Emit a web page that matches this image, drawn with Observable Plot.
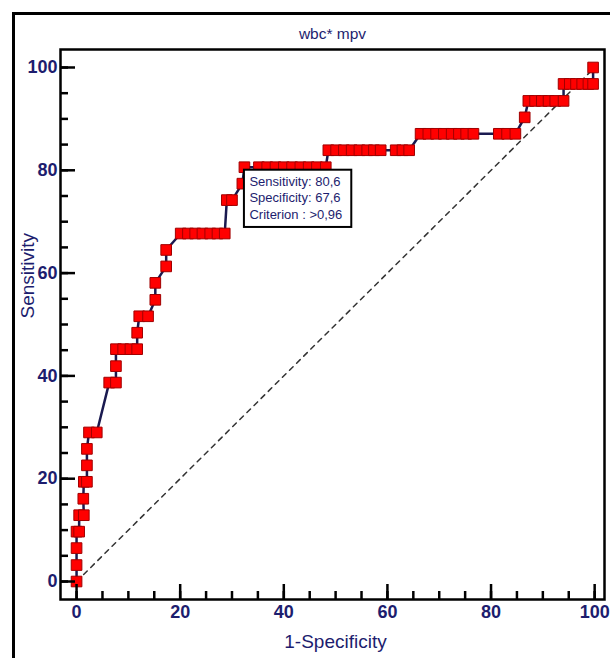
<!DOCTYPE html>
<html><head><meta charset="utf-8">
<script src="https://cdn.jsdelivr.net/npm/d3@7"></script>
<script src="https://cdn.jsdelivr.net/npm/@observablehq/plot@0.6"></script>
<style>
html,body{margin:0;padding:0;background:#fff;}
#wrap{position:relative;width:610px;height:658px;overflow:hidden;background:#fff;}
#outer{position:absolute;left:12px;top:12px;width:640px;height:700px;border:3px solid #000;box-sizing:border-box;}
#chart{position:absolute;left:0;top:0;}
</style></head><body>
<div id="wrap"><div id="outer"></div><div id="chart"></div></div>
<script>
// ROC points (1-Specificity, Sensitivity)
const fpr = [
  0, 0, 0, 0, 0.5, 0.5, 1.4, 1.3, 1.4, 2.0, 2.0, 2.0, 2.4, 3.9,
  6.3, 7.6, 7.6, 7.6, 9.0, 10.4, 11.7, 11.7, 12.1, 13.8, 15.2, 15.2, 17.3, 17.3,
  20.1, 21.5, 22.9, 24.3, 25.8, 27.2, 28.6,
  29.0, 30.0, 32.0,
  32.4, 35.2, 36.8, 38.4, 40.0, 41.6, 43.2, 44.8, 46.4, 48.1,
  48.6, 50.1, 51.6, 53.1, 54.6, 56.1, 57.4, 58.7, 61.6, 62.9, 64.2,
  66.4, 67.9, 69.4, 70.9, 72.4, 73.8, 75.2, 76.6, 81.5, 83.1, 84.7,
  86.5,
  87.2, 88.5, 89.8, 91.1, 92.4, 94.0,
  94.0, 95.2, 96.4, 97.6, 98.8, 99.7,
  99.7
];
const sensitivity = [
  0, 3.2, 6.5, 9.7, 9.7, 12.9, 12.9, 16.1, 19.4, 19.4, 22.6, 25.8, 29.0, 29.0,
  38.7, 38.7, 41.9, 45.2, 45.2, 45.2, 45.2, 48.4, 51.6, 51.6, 54.8, 58.1, 61.3, 64.5,
  67.7, 67.7, 67.7, 67.7, 67.7, 67.7, 67.7,
  74.2, 74.2, 77.4,
  80.6, 80.6, 80.6, 80.6, 80.6, 80.6, 80.6, 80.6, 80.6, 80.6,
  83.9, 83.9, 83.9, 83.9, 83.9, 83.9, 83.9, 83.9, 83.9, 83.9, 83.9,
  87.1, 87.1, 87.1, 87.1, 87.1, 87.1, 87.1, 87.1, 87.1, 87.1, 87.1,
  90.3,
  93.5, 93.5, 93.5, 93.5, 93.5, 93.5,
  96.8, 96.8, 96.8, 96.8, 96.8, 96.8,
  100
];
const diagonalX = [0, 100];
const diagonalY = [0, 100];
const majorTicks = [0, 20, 40, 60, 80, 100];
const minorTicks = [0,5,10,15,20,25,30,35,40,45,50,55,60,65,70,75,80,85,90,95,100];
const criterion = {fpr: 32.4, sens: 80.6};
const annotationLines = ["Sensitivity: 80,6", "Specificity: 67,6", "Criterion : >0,96"];
const titleText = "wbc* mpv";
const xLabel = "1-Specificity";
const yLabel = "Sensitivity";

const FONT = "'Liberation Sans', Arial, Helvetica, sans-serif";
const NAVY = "#1d1d6e";

const data = fpr.map((x, i) => ({x, y: sensitivity[i]}));
const diag = diagonalX.map((x, i) => ({x, y: diagonalY[i]}));

const plot = Plot.plot({
  width: 610, height: 658,
  marginLeft: 60, marginRight: 6, marginTop: 49, marginBottom: 59,
  style: {fontFamily: FONT, background: "transparent", color: NAVY, overflow: "visible"},
  x: {domain: [-3.1, 101.9]},
  y: {domain: [-3.5, 103.5]},
  marks: [
    Plot.line(diag, {x: "x", y: "y", stroke: "#333", strokeWidth: 1.5, strokeDasharray: "5,5"}),
    Plot.line(data, {x: "x", y: "y", stroke: "#1a1a50", strokeWidth: 2.5}),
    Plot.dot(data, {x: "x", y: "y", symbol: "square", r: 6, fill: "#ff0000", stroke: "#a00000", strokeWidth: 1}),
    Plot.text([criterion], {x: "fpr", y: "sens", text: () => annotationLines.join("\n"),
      textAnchor: "start", lineAnchor: "top", dx: 5, dy: 7, lineHeight: 1.27,
      fontSize: 13, fill: NAVY}),
    Plot.frame({stroke: "#000", strokeWidth: 2.5}),
    Plot.axisX({ticks: minorTicks, tickSize: -8, tickFormat: () => "", label: null, strokeWidth: 2.5, stroke: "#000"}),
    Plot.axisX({ticks: majorTicks, tickSize: -15, tickPadding: 21, label: null, strokeWidth: 2.5, stroke: "#000",
      fontSize: 18, fontWeight: "bold", fill: NAVY}),
    Plot.axisY({ticks: minorTicks, tickSize: -8, tickFormat: () => "", label: null, strokeWidth: 2.5, stroke: "#000"}),
    Plot.axisY({ticks: majorTicks, tickSize: -15, tickPadding: 18, label: null, strokeWidth: 2.5, stroke: "#000",
      fontSize: 18, fontWeight: "bold", fill: NAVY}),
    Plot.text([titleText], {frameAnchor: "top", dy: -22, text: d => d, fontSize: 15.5, fill: NAVY}),
    Plot.text([xLabel], {frameAnchor: "bottom", dx: 3, dy: 48, text: d => d, fontSize: 19, fill: NAVY}),
    Plot.text([yLabel], {frameAnchor: "left", dx: -33, dy: -6, rotate: -90, text: d => d, fontSize: 19, fill: NAVY})
  ]
});
document.getElementById("chart").appendChild(plot);

// white box behind the criterion annotation
const txt = Array.from(plot.querySelectorAll("text")).find(t => t.textContent.includes("Criterion"));
if (txt) {
  const svgBox = plot.getBoundingClientRect();
  const tb = txt.getBoundingClientRect();
  const px = plot.scale("x").apply(criterion.fpr);
  const py = plot.scale("y").apply(criterion.sens) + 3;
  const rect = document.createElementNS("http://www.w3.org/2000/svg", "rect");
  rect.setAttribute("x", px);
  rect.setAttribute("y", py);
  rect.setAttribute("width", Math.max(10, tb.right - svgBox.left + 9 - px));
  rect.setAttribute("height", Math.max(10, tb.bottom - svgBox.top + 5 - py));
  rect.setAttribute("fill", "#fff");
  rect.setAttribute("stroke", "#000");
  rect.setAttribute("stroke-width", 2);
  const g = txt.parentNode;
  g.parentNode.insertBefore(rect, g);
}
</script>
</body></html>
